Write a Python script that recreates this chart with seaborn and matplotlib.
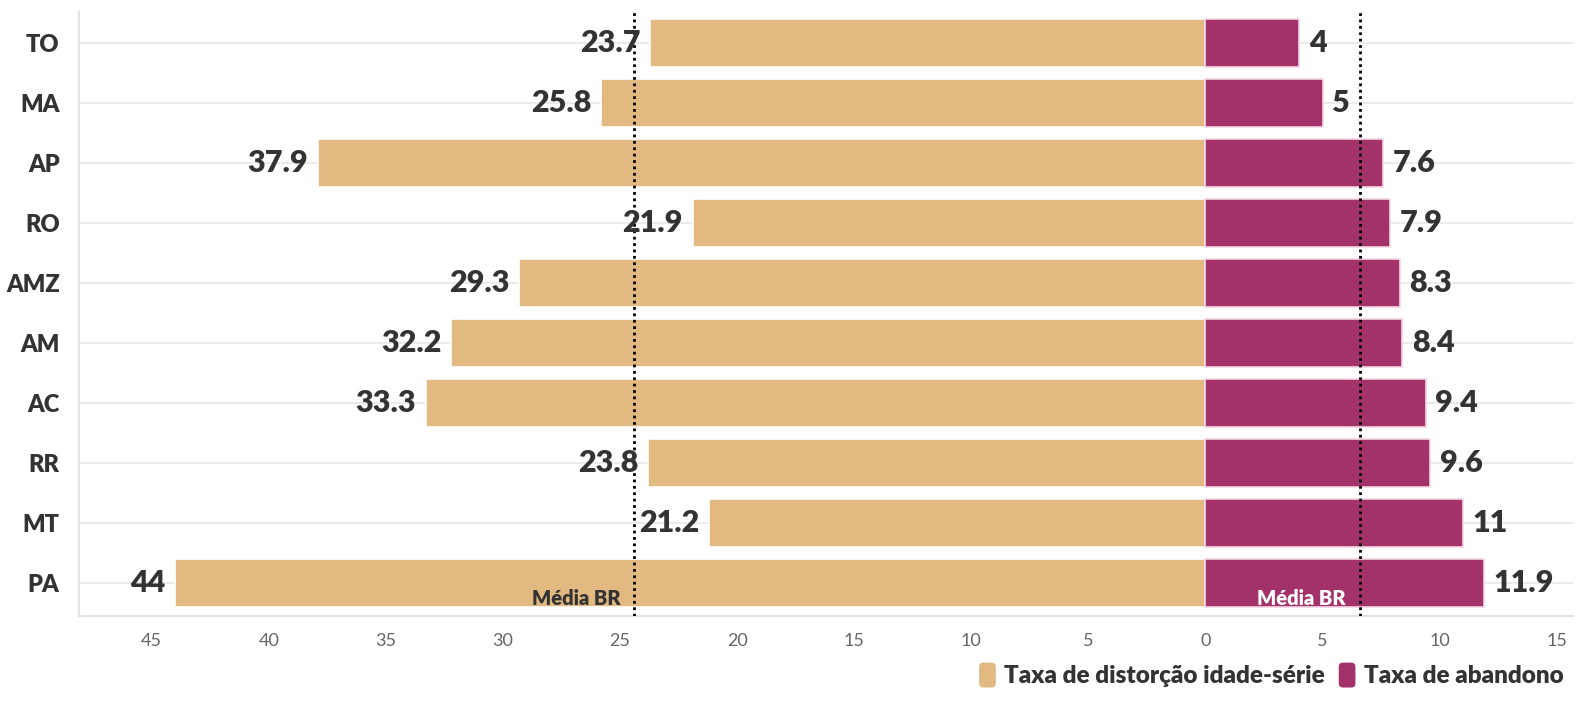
import pandas as pd
import matplotlib.pyplot as plt
import seaborn as sns
from matplotlib.patches import Patch, FancyBboxPatch
from matplotlib.legend_handler import HandlerPatch
from matplotlib.ticker import FuncFormatter

# Data
estados = ["TO", "MA", "AP", "RO", "AMZ", "AM", "AC", "RR", "MT", "PA"]
distorcao = [23.7, 25.8, 37.9, 21.9, 29.3, 32.2, 33.3, 23.8, 21.2, 44]
abandono = [4, 5, 7.6, 7.9, 8.3, 8.4, 9.4, 9.6, 11, 11.9]
media_distorcao = 24.4
media_abandono = 6.6

cor_distorcao = "#E2BA81"
cor_abandono = "#A4326A"
texto = "#333333"

sns.set_style("white")
plt.rcParams["font.family"] = ["Lato", "DejaVu Sans"]


class RoundHandler(HandlerPatch):
    def create_artists(self, legend, orig_handle, xdescent, ydescent, width, height, fontsize, trans):
        p = FancyBboxPatch((-xdescent + 1, -ydescent), width - 2, height,
                           boxstyle="round,pad=0,rounding_size=3",
                           facecolor=orig_handle.get_facecolor(), edgecolor="none", transform=trans)
        return [p]


df = pd.DataFrame({"estado": estados, "distorcao": distorcao, "abandono": abandono})
df["distorcao_neg"] = -df["distorcao"]

fig = plt.figure(figsize=(15.81, 7.01), dpi=100)
ax = fig.add_axes([0.05, 0.1213, 0.945, 0.8616])

# grid lines behind bars
for i in range(len(estados)):
    ax.axhline(i, color="#ebebeb", lw=1.5, zorder=0)

sns.barplot(data=df, y="estado", x="distorcao_neg", order=estados, color=cor_distorcao,
            width=0.8, edgecolor="white", linewidth=1.2, saturation=1, ax=ax, zorder=2)
sns.barplot(data=df, y="estado", x="abandono", order=estados, color=cor_abandono,
            width=0.8, edgecolor="#f3d6e4", linewidth=1.2, saturation=1, ax=ax, zorder=2)

ax.set_xlim(-48.1, 15.7)
ax.set_ylim(9.55, -0.52)

# value labels
for i, (d, a) in enumerate(zip(distorcao, abandono)):
    ax.annotate(f"{d:g}", (-d, i), xytext=(-7, 0), textcoords="offset points",
                ha="right", va="center", fontsize=22, fontweight="heavy", color=texto, zorder=5)
    ax.annotate(f"{a:g}", (a, i), xytext=(7, 0), textcoords="offset points",
                ha="left", va="center", fontsize=22, fontweight="heavy", color=texto, zorder=5)

# national averages
ax.axvline(-media_distorcao, color="black", ls=(0, (1, 1.3)), lw=2, zorder=4)
ax.axvline(media_abandono, color="black", ls=(0, (1, 1.3)), lw=2, zorder=4)
ax.annotate("Média BR", (-media_distorcao, 9), xytext=(-10, -15.5), textcoords="offset points",
            ha="right", va="baseline", fontsize=14.5, fontweight="heavy", color=texto, zorder=5)
ax.annotate("Média BR", (media_abandono, 9), xytext=(-10, -15.5), textcoords="offset points",
            ha="right", va="baseline", fontsize=14.5, fontweight="heavy", color="white", zorder=5)

# axes styling
ax.set_xticks(range(-45, 16, 5))
ax.xaxis.set_major_formatter(FuncFormatter(lambda v, p: f"{abs(v):g}"))
ax.set_xlabel("")
ax.set_ylabel("")
for s in ["top", "right"]:
    ax.spines[s].set_visible(False)
ax.spines["left"].set_color("#e3e3e3")
ax.spines["bottom"].set_color("#e3e3e3")
ax.spines["left"].set_linewidth(1.5)
ax.spines["bottom"].set_linewidth(1.5)
ax.tick_params(axis="x", length=6, width=1.2, color="#e3e3e3", labelsize=13,
               labelcolor="#666666", pad=6)
ax.tick_params(axis="y", length=10, width=1.5, color="#e3e3e3", pad=4)
for lbl in ax.get_yticklabels():
    lbl.set_fontsize(17)
    lbl.set_fontweight("heavy")
    lbl.set_color(texto)

# legend
handles = [Patch(facecolor=cor_distorcao, label="Taxa de distorção idade-série"),
           Patch(facecolor=cor_abandono, label="Taxa de abandono")]
leg = fig.legend(handles=handles, loc="lower right", bbox_to_anchor=(1.003, -0.012), ncol=2,
                 frameon=False, handlelength=0.8, handleheight=1.2, handletextpad=0.3,
                 columnspacing=0.5, prop={"size": 17.5, "weight": "heavy"},
                 handler_map={Patch: RoundHandler()})
for t in leg.get_texts():
    t.set_color(texto)

fig.savefig("out.png", dpi=100)
